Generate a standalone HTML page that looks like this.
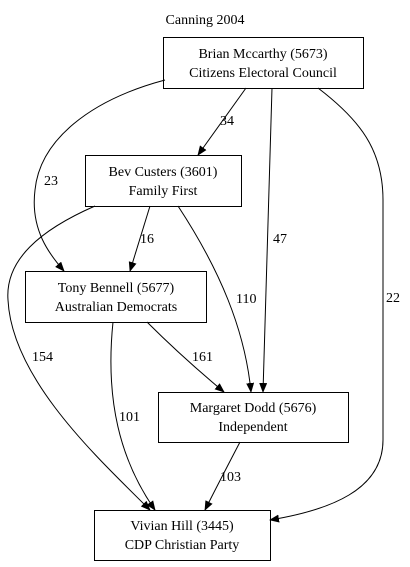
<!DOCTYPE html>
<html><head><meta charset="utf-8"><style>
html,body{margin:0;padding:0;background:#fff;}
svg{display:block;}
text{font-family:"Liberation Serif",serif;font-size:14px;fill:#000;}
</style></head><body>
<svg width="410" height="567" viewBox="0 0 410 567" xmlns="http://www.w3.org/2000/svg">
<defs><marker id="a" markerWidth="10" markerHeight="8" refX="9" refY="4" orient="auto" markerUnits="userSpaceOnUse"><path d="M0,0 L10,4 L0,8 z" fill="#000"/></marker></defs>
<text x="205" y="24" text-anchor="middle">Canning 2004</text>
<g fill="none" stroke="#000" stroke-width="1">
<rect x="163.5" y="37.5" width="200" height="51"/>
<rect x="85.5" y="155.5" width="156" height="51"/>
<rect x="25.5" y="271.5" width="181" height="51"/>
<rect x="158.5" y="392.5" width="190" height="50"/>
<rect x="94.5" y="510.5" width="176" height="50"/>
<g marker-end="url(#a)">
<path d="M246,88 L198,155"/>
<path d="M165,80 C90,100 40,140 35,190 C30,230 50,255 64,271"/>
<path d="M272,88 C270,180 265,300 263,392"/>
<path d="M318,88 C360,120 383,150 383,200 L383,440 C383,490 330,510 270,520"/>
<path d="M150,206 L130,271"/>
<path d="M178,206 C220,270 245,330 251,392"/>
<path d="M95,206 C40,230 5,260 8,300 C12,380 100,460 150,510"/>
<path d="M147,322 C175,350 200,372 224,392"/>
<path d="M113,322 C105,400 120,460 155,510"/>
<path d="M240,442 C228,465 215,490 205,510"/>
</g></g>
<text x="263" y="58" text-anchor="middle">Brian Mccarthy (5673)</text>
<text x="263" y="77" text-anchor="middle">Citizens Electoral Council</text>
<text x="163" y="176" text-anchor="middle">Bev Custers (3601)</text>
<text x="163" y="195" text-anchor="middle">Family First</text>
<text x="116" y="292" text-anchor="middle">Tony Bennell (5677)</text>
<text x="116" y="311" text-anchor="middle">Australian Democrats</text>
<text x="253" y="412" text-anchor="middle">Margaret Dodd (5676)</text>
<text x="253" y="431" text-anchor="middle">Independent</text>
<text x="182" y="530" text-anchor="middle">Vivian Hill (3445)</text>
<text x="182" y="549" text-anchor="middle">CDP Christian Party</text>
<text x="220" y="125">34</text>
<text x="44" y="185">23</text>
<text x="273" y="243">47</text>
<text x="386" y="302">22</text>
<text x="140" y="243">16</text>
<text x="236" y="303">110</text>
<text x="32" y="361">154</text>
<text x="192" y="361">161</text>
<text x="119" y="421">101</text>
<text x="220" y="481">103</text>
</svg>
</body></html>
